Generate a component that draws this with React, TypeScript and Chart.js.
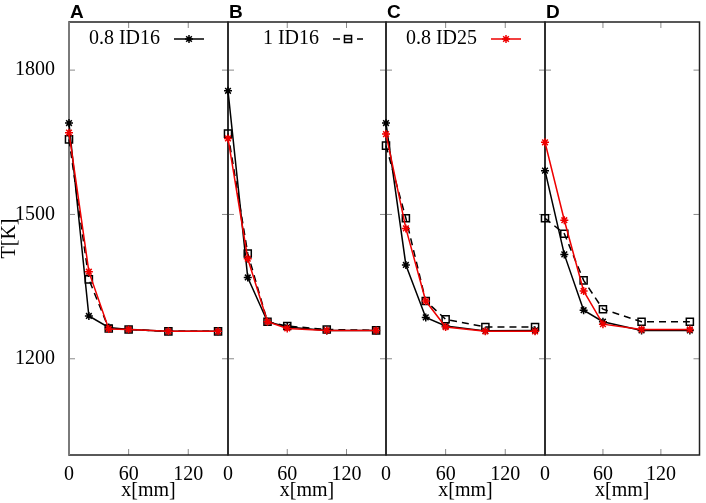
import { useEffect, useRef } from "react";
import { Chart, registerables, type ChartConfiguration, type Plugin } from "chart.js";
import { drawPoint } from "chart.js/helpers";

Chart.register(...registerables);

// x positions of the probes [mm]
const X_MM = [0, 20, 40, 60, 100, 150];

// panel A
const A_08_ID16 = [1690, 1289, 1265, 1261, 1257, 1257];
const A_1_ID16 = [1656, 1365, 1263, 1261, 1257, 1257];
const A_08_ID25 = [1670, 1381, 1262, 1261, 1257, 1257];
// panel B
const B_08_ID16 = [1757, 1369, 1277, 1266, 1259, 1259];
const B_1_ID16 = [1668, 1419, 1277, 1268, 1261, 1259];
const B_08_ID25 = [1658, 1408, 1277, 1263, 1259, 1259];
// panel C
const C_08_ID16 = [1690, 1395, 1286, 1268, 1258, 1259];
const C_1_ID16 = [1643, 1492, 1320, 1282, 1266, 1266];
const C_08_ID25 = [1667, 1471, 1320, 1266, 1257, 1257];
// panel D
const D_08_ID16 = [1591, 1417, 1301, 1277, 1259, 1259];
const D_1_ID16 = [1492, 1460, 1363, 1303, 1277, 1277];
const D_08_ID25 = [1650, 1488, 1341, 1272, 1261, 1261];

const PANEL_NAMES = ["A", "B", "C", "D"];
const SERIES_LABELS = ["0.8 ID16", "1 ID16", "0.8 ID25"];
const Y_TICKS = [1200, 1500, 1800];
const X_TICKS = [0, 60, 120];

const PANEL_SERIES = [
  [A_08_ID16, A_1_ID16, A_08_ID25],
  [B_08_ID16, B_1_ID16, B_08_ID25],
  [C_08_ID16, C_1_ID16, C_08_ID25],
  [D_08_ID16, D_1_ID16, D_08_ID25],
];

const STYLES = [
  { color: "#000000", dash: [] as number[], point: "star", radius: 4, order: 3 },
  { color: "#000000", dash: [7, 5], point: "rect", radius: 5, order: 2 },
  { color: "#ee0000", dash: [] as number[], point: "star", radius: 4, order: 1 },
];

// layout (pixels)
const W = 706;
const H = 503;
const AREA_LEFT = [69, 228, 386, 545];
const AREA_RIGHT = [228, 386, 545, 704];
const AREA_TOP = 22;
const AREA_BOTTOM = 455;
const OVER = 10;

const SERIF = "'Liberation Serif', 'DejaVu Serif', serif";

// frame, inward mirrored ticks, panel letter and legend entry, drawn on a
// separate canvas under the chart from the chart's own scales
function drawDecorations(g: CanvasRenderingContext2D, chart: Chart, i: number) {
  const a = chart.chartArea;
  const sx = chart.scales.x;
  const sy = chart.scales.y;
  g.save();
  g.strokeStyle = "#8a8a8a";
  g.lineWidth = 1;
  g.beginPath();
  X_TICKS.forEach((v) => {
    const px = sx.getPixelForValue(v);
    if (px <= a.left + 1) return;
    g.moveTo(px, a.bottom);
    g.lineTo(px, a.bottom - 6);
    g.moveTo(px, a.top);
    g.lineTo(px, a.top + 6);
  });
  Y_TICKS.forEach((v) => {
    const py = sy.getPixelForValue(v);
    g.moveTo(a.left, py);
    g.lineTo(a.left + 6, py);
    g.moveTo(a.right, py);
    g.lineTo(a.right - 6, py);
  });
  g.stroke();

  g.strokeStyle = "#222";
  g.lineWidth = 1.5;
  g.strokeRect(a.left, a.top, a.right - a.left, a.bottom - a.top);
  if (i === 0) {
    g.strokeStyle = "#7a7a7a";
    g.lineWidth = 2;
    g.beginPath();
    g.moveTo(a.left, a.top);
    g.lineTo(a.left, a.bottom);
    g.stroke();
  }

  g.fillStyle = "#000";
  g.font = "bold 19px 'Liberation Sans', Arial, sans-serif";
  g.textAlign = "left";
  g.textBaseline = "alphabetic";
  g.fillText(PANEL_NAMES[i], a.left + 1, 18);

  if (i < SERIES_LABELS.length) {
    const st = STYLES[i];
    const y = 39;
    g.font = `20px ${SERIF}`;
    g.textAlign = "right";
    g.textBaseline = "middle";
    g.fillText(SERIES_LABELS[i], a.left + 91, y);
    g.strokeStyle = st.color;
    g.lineWidth = 1.5;
    g.setLineDash(st.dash);
    g.beginPath();
    g.moveTo(a.left + 105, y);
    g.lineTo(a.left + 135, y);
    g.stroke();
    g.setLineDash([]);
    g.fillStyle = "rgba(0,0,0,0)";
    drawPoint(g, { pointStyle: st.point as any, rotation: 0, radius: st.radius, borderWidth: 1.5 }, a.left + 120, y);
  }
  g.restore();
}

function Panel({ index }: { index: number }) {
  const canvasRef = useRef<HTMLCanvasElement>(null);
  const decoRef = useRef<HTMLCanvasElement>(null);

  const left = index === 0 ? 0 : AREA_LEFT[index] - OVER;
  const right = index === 3 ? W : AREA_RIGHT[index] + OVER;
  const width = right - left;

  useEffect(() => {
    const ctx = canvasRef.current?.getContext("2d");
    if (!ctx) return;

    const deco: Plugin<"line"> = {
      id: "deco",
      afterRender(chart) {
        const c = decoRef.current;
        const g = c?.getContext("2d");
        if (!c || !g) return;
        g.clearRect(0, 0, c.width, c.height);
        drawDecorations(g, chart as unknown as Chart, index);
      },
    };

    const series = PANEL_SERIES[index];
    const config: ChartConfiguration<"line"> = {
      type: "line",
      data: {
        datasets: series.map((vals, s) => ({
          data: X_MM.map((x, k) => ({ x, y: vals[k] })),
          borderColor: STYLES[s].color,
          borderWidth: 1.5,
          borderDash: STYLES[s].dash,
          pointStyle: STYLES[s].point as any,
          pointRadius: STYLES[s].radius,
          pointBorderColor: STYLES[s].color,
          pointBackgroundColor: "rgba(0,0,0,0)",
          clip: false as any,
          order: STYLES[s].order,
        })),
      },
      options: {
        responsive: false,
        animation: false,
        events: [],
        layout: {
          padding: {
            left: index === 0 ? 0 : OVER,
            right: right - AREA_RIGHT[index],
            top: AREA_TOP,
            bottom: 0,
          },
        },
        plugins: {
          legend: { display: false },
          tooltip: { enabled: false },
        },
        scales: {
          x: {
            type: "linear",
            min: 0,
            max: 160,
            grid: { display: false },
            border: { display: false },
            afterBuildTicks: (scale) => {
              scale.ticks = X_TICKS.map((value) => ({ value }));
            },
            afterFit: (scale) => {
              scale.height = H - AREA_BOTTOM;
            },
            ticks: {
              color: "#000",
              font: { family: SERIF, size: 20 },
              padding: 0,
              autoSkip: false,
              maxRotation: 0,
              callback: (v) => String(v),
            },
            title: {
              display: true,
              text: "x[mm]",
              color: "#000",
              font: { family: SERIF, size: 20 },
              padding: { top: 0, bottom: 0 },
            },
          },
          y: {
            type: "linear",
            display: index === 0,
            min: 1000,
            max: 1900,
            grid: { display: false },
            border: { display: false },
            afterBuildTicks: (scale) => {
              scale.ticks = Y_TICKS.map((value) => ({ value }));
            },
            afterFit: (scale) => {
              scale.width = index === 0 ? AREA_LEFT[0] : 0;
            },
            ticks: {
              color: "#000",
              font: { family: SERIF, size: 20 },
              padding: 6,
              callback: (v) => String(v),
            },
            title: {
              display: true,
              text: "T[K]",
              color: "#000",
              font: { family: SERIF, size: 20, lineHeight: 1 },
              padding: { top: 0, bottom: 0 },
            },
          },
        },
      },
      plugins: [deco],
    };

    const chart = new Chart(ctx, config);
    return () => chart.destroy();
  }, [index, right]);

  const style = { position: "absolute" as const, left, top: 0, width, height: H };
  return (
    <>
      <canvas ref={decoRef} width={width} height={H} style={{ ...style, zIndex: 1 }} />
      <canvas ref={canvasRef} width={width} height={H} style={{ ...style, zIndex: 2 }} />
    </>
  );
}

export default function App() {
  return (
    <div style={{ position: "fixed", left: 0, top: 0, width: W, height: H, background: "#fff" }}>
      {PANEL_NAMES.map((_, i) => (
        <Panel key={i} index={i} />
      ))}
    </div>
  );
}
